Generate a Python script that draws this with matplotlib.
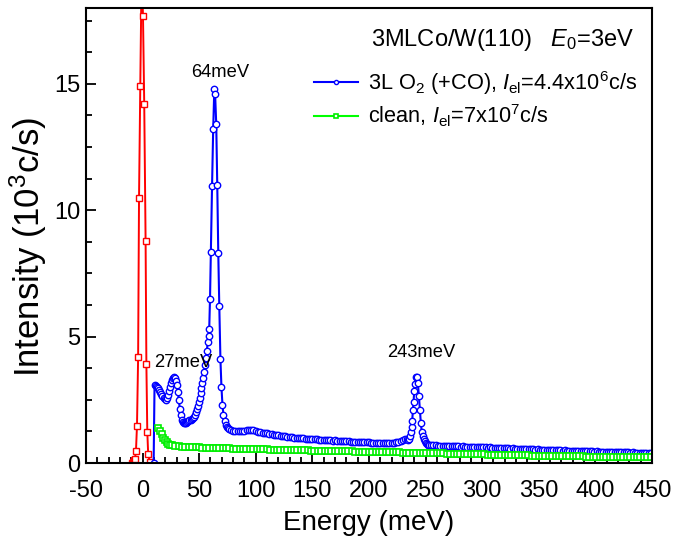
import numpy as np
import matplotlib
matplotlib.use("Agg")
import matplotlib.pyplot as plt
from matplotlib.ticker import MultipleLocator

plt.rcParams['font.family'] = ['Liberation Sans', 'DejaVu Sans']
plt.rcParams['mathtext.fontset'] = 'custom'
plt.rcParams['mathtext.rm'] = 'Liberation Sans'
plt.rcParams['mathtext.it'] = 'Liberation Sans:italic'
plt.rcParams['axes.unicode_minus'] = False

# ---------------- data ----------------
# elastic peak (red)
red_x = [-9.6, -8.7, -7.7, -6.7, -5.8, -4.9, -3.9, -3.1, -2.0, -0.8, 0.4, 1.5, 2.7, 3.4, 4.2, 5.0, 6.4]
red_y = [0.0, 0.04, 0.10, 0.17, 0.48, 1.48, 4.18, 10.5, 14.9, 19.5, 17.7, 14.2, 8.8, 3.9, 1.23, 0.34, 0.05]

# blue: 3L O2 (+CO), low-energy part
blue_x_a = [9.8, 10.6, 11.6, 12.6, 13.6, 14.6, 15.6, 16.6, 17.6, 18.6, 19.6, 20.6, 21.5, 22.4, 23.3,
            24.2, 25.1, 26.0, 26.9, 27.8, 28.7, 29.6, 30.5, 31.3, 32.1, 32.9, 33.7, 34.5, 35.4, 36.4,
            37.4, 38.4, 39.4, 40.4, 41.4, 42.4, 43.4, 44.4, 45.4, 46.3, 47.2, 48.0, 48.8, 49.6, 50.4,
            51.2, 52.0, 52.8, 53.6, 54.4, 55.2, 56.0, 56.8, 57.6, 58.3, 58.9, 59.6, 60.3, 61.4, 62.4,
            63.4, 64.1, 65.1, 66.0, 66.9, 67.8, 68.8, 69.7, 70.6, 71.5, 72.4, 73.3, 74.2, 75.1, 76.0]
blue_y_a = [0.0, 3.08, 3.05, 3.00, 2.95, 2.90, 2.82, 2.74, 2.66, 2.58, 2.52, 2.50, 2.56, 2.70, 2.86,
            3.02, 3.16, 3.28, 3.37, 3.40, 3.35, 3.25, 3.08, 2.80, 2.48, 2.15, 1.88, 1.70, 1.61, 1.57,
            1.58, 1.60, 1.63, 1.66, 1.69, 1.72, 1.75, 1.78, 1.83, 1.90, 2.00, 2.12, 2.26, 2.42, 2.58,
            2.76, 2.95, 3.15, 3.38, 3.62, 3.88, 4.15, 4.45, 4.78, 5.04, 5.30, 6.50, 8.33, 10.95, 13.2,
            14.8, 14.6, 13.4, 11.0, 8.3, 6.2, 4.1, 3.0, 2.3, 1.9, 1.66, 1.52, 1.43, 1.37, 1.33]

# blue tail 78..232 meV (2 meV steps)
blue_y_b = [1.31, 1.28, 1.27, 1.26, 1.25, 1.26, 1.27, 1.30, 1.32, 1.31,
            1.29, 1.27, 1.24, 1.21, 1.19, 1.18, 1.17, 1.15, 1.13, 1.12,
            1.10, 1.09, 1.07, 1.06, 1.05, 1.04, 1.03, 1.01, 1.00, 0.99,
            0.98, 0.97, 0.97, 0.96, 0.95, 0.95, 0.94, 0.93, 0.93, 0.92,
            0.92, 0.91, 0.92, 0.90, 0.90, 0.89, 0.90, 0.88, 0.87, 0.88,
            0.87, 0.86, 0.86, 0.85, 0.85, 0.84, 0.85, 0.83, 0.83, 0.82,
            0.83, 0.82, 0.81, 0.81, 0.80, 0.81, 0.80, 0.79, 0.80, 0.79,
            0.80, 0.80, 0.81, 0.82, 0.83, 0.86, 0.90, 0.95]
blue_x_b0, blue_dx = 78.0, 2.0

# blue 243 meV peak
blue_x_c = [233.9, 234.8, 235.6, 236.3, 237.0, 237.6, 238.2, 238.8, 239.4, 240.0, 240.7, 241.5,
            242.3, 243.2, 244.1, 245.0, 245.8, 246.6, 247.4, 248.2, 249.1, 250.0, 250.9, 251.8]
blue_y_c = [0.93, 0.92, 0.95, 1.07, 1.22, 1.42, 1.67, 2.09, 2.43, 2.86, 3.12, 3.39,
            3.40, 3.15, 2.66, 2.09, 1.60, 1.24, 1.07, 0.94, 0.87, 0.80, 0.76, 0.73]

# blue tail 253..449 meV (2 meV steps)
blue_y_d = [0.72, 0.71, 0.70, 0.70, 0.69, 0.69, 0.68, 0.69, 0.68, 0.67,
            0.67, 0.66, 0.67, 0.66, 0.65, 0.66, 0.65, 0.64, 0.65, 0.64,
            0.63, 0.64, 0.63, 0.62, 0.63, 0.62, 0.61, 0.62, 0.61, 0.60,
            0.60, 0.59, 0.60, 0.58, 0.59, 0.58, 0.57, 0.58, 0.57, 0.56,
            0.56, 0.55, 0.56, 0.55, 0.54, 0.55, 0.54, 0.53, 0.54, 0.53,
            0.52, 0.53, 0.52, 0.51, 0.52, 0.51, 0.50, 0.51, 0.50, 0.49,
            0.50, 0.49, 0.48, 0.49, 0.48, 0.47, 0.48, 0.47, 0.47, 0.46,
            0.47, 0.46, 0.46, 0.45, 0.46, 0.45, 0.45, 0.44, 0.45, 0.44,
            0.44, 0.43, 0.44, 0.43, 0.43, 0.42, 0.43, 0.42, 0.42, 0.41,
            0.42, 0.41, 0.41, 0.40, 0.41, 0.40, 0.40, 0.39, 0.40]
blue_x_d0 = 253.0

# green: clean surface
green_x_a = [13.9, 15.4, 16.8, 18.3, 19.8, 21.3, 22.8, 24.3, 25.8]
green_y_a = [1.40, 1.27, 1.14, 1.00, 0.90, 0.82, 0.77, 0.73, 0.71]
green_y_b = [0.68, 0.67, 0.65, 0.64, 0.63, 0.63, 0.62, 0.62, 0.61, 0.61,
             0.60, 0.60, 0.59, 0.59, 0.58, 0.58, 0.58, 0.57, 0.57, 0.56,
             0.56, 0.56, 0.55, 0.55, 0.55, 0.54, 0.54, 0.54, 0.53, 0.53,
             0.53, 0.52, 0.52, 0.52, 0.51, 0.51, 0.51, 0.50, 0.50, 0.50,
             0.49, 0.49, 0.49, 0.48, 0.48, 0.48, 0.47, 0.47, 0.47, 0.47,
             0.46, 0.46, 0.46, 0.45, 0.45, 0.45, 0.44, 0.44, 0.44, 0.44,
             0.43, 0.43, 0.43, 0.42, 0.42, 0.42, 0.42, 0.41, 0.41, 0.41,
             0.41, 0.40, 0.40, 0.40, 0.39, 0.39, 0.39, 0.38, 0.38, 0.38,
             0.37, 0.37, 0.37, 0.36, 0.36, 0.36, 0.35, 0.35, 0.35, 0.34,
             0.34, 0.34, 0.33, 0.33, 0.33, 0.32, 0.32, 0.32, 0.31, 0.31,
             0.31, 0.30, 0.30, 0.30, 0.30, 0.29, 0.29, 0.29, 0.28, 0.28,
             0.28, 0.28, 0.27, 0.27, 0.27, 0.27, 0.26, 0.26, 0.26, 0.26,
             0.26, 0.25, 0.25, 0.25, 0.25, 0.25, 0.24, 0.24, 0.24, 0.24,
             0.24, 0.23, 0.23, 0.23, 0.23, 0.23, 0.22, 0.22, 0.22, 0.22, 0.22]
green_x_b0, green_dx = 28.8, 3.0

peak_labels = ["27meV", "64meV", "243meV"]
peak_label_pos = [(36, 3.97), (69, 15.45), (246.5, 4.37)]

blue_label = r"3L O$_2$ (+CO), $I_{\mathrm{el}}$=4.4x10$^6$c/s"
green_label = r"clean, $I_{\mathrm{el}}$=7x10$^7$c/s"
title_text = r"3MLCo/W(110)   $E_0$=3eV"

# ---------------- assemble ----------------
blue_x = np.concatenate([blue_x_a,
                         blue_x_b0 + blue_dx * np.arange(len(blue_y_b)),
                         blue_x_c,
                         blue_x_d0 + blue_dx * np.arange(len(blue_y_d))])
blue_y = np.concatenate([blue_y_a, blue_y_b, blue_y_c, blue_y_d])
green_x = np.concatenate([green_x_a, green_x_b0 + green_dx * np.arange(len(green_y_b))])
green_y = np.concatenate([green_y_a, green_y_b])

fig = plt.figure(figsize=(6.82, 5.39), dpi=100)
ax = fig.add_axes([0.126, 0.141, 0.830, 0.844])

ax.plot(red_x, red_y, color='red', lw=1.4, marker='s', ms=4.0, mfc='white', mec='red', mew=1.0)
lb, = ax.plot(blue_x, blue_y, color='#0000ff', lw=1.5, marker='o', ms=4.6, mfc='white', mec='#0000ff',
              mew=1.0, label=blue_label)
lg, = ax.plot(green_x, green_y, color='#00ff00', lw=1.5, marker='s', ms=4.4, mfc='white', mec='#00ee00',
              mew=1.2, label=green_label)

ax.set_xlim(-50, 450)
ax.set_ylim(0, 18)
ax.xaxis.set_major_locator(MultipleLocator(50))
ax.xaxis.set_minor_locator(MultipleLocator(10))
ax.yaxis.set_major_locator(MultipleLocator(5))
ax.yaxis.set_minor_locator(MultipleLocator(1.25))
ax.tick_params(which='both', direction='in', top=False, right=False, labelsize=17, width=1.3)
ax.tick_params(which='major', length=7)
ax.tick_params(which='minor', length=4)
ax.tick_params(axis='x', which='major', pad=12)
ax.tick_params(axis='y', which='major', pad=4)
for s in ax.spines.values():
    s.set_linewidth(1.5)

ax.set_xlabel("Energy (meV)", fontsize=20, labelpad=6)
ax.set_ylabel(r"Intensity (10$^3$c/s)", fontsize=25)
ax.yaxis.set_label_coords(-0.066, 0.475)

for txt, (px, py) in zip(peak_labels, peak_label_pos):
    ax.text(px, py, txt, fontsize=13.2, ha='center', va='center')

ax.text(0.969, 0.93, title_text, transform=ax.transAxes, fontsize=17, ha='right', va='center')
leg = ax.legend(handles=[lb, lg], loc='upper right', bbox_to_anchor=(0.996, 0.895), frameon=False,
                fontsize=15.7, handlelength=2.0, handletextpad=0.46, markerscale=0.65, labelspacing=0.25,
                borderaxespad=0.2)

fig.savefig("out.png", dpi=100)
